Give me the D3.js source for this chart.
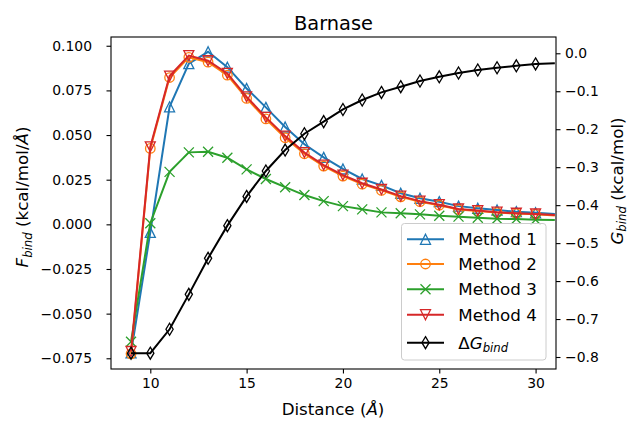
<!DOCTYPE html>
<html>
<head>
<meta charset="utf-8">
<script src="https://cdn.jsdelivr.net/npm/d3@7"></script>
<style>
  body { margin: 0; background: #fff; }
  svg { font-family: "DejaVu Sans", sans-serif; }
</style>
</head>
<body>
<svg id="drawing_region"></svg>
<script>
// distance (Å); markers only shown up to 30, the last point just carries the line to the frame
const distance = [9, 10, 11, 12, 13, 14, 15, 16, 17, 18, 19, 20, 21, 22, 23, 24, 25, 26, 27, 28, 29, 30, 31];
const method1 = [-0.0720, -0.0045, 0.0658, 0.0900, 0.0966, 0.0880, 0.0761, 0.0655, 0.0545, 0.0448, 0.0375, 0.0310, 0.0254, 0.0218, 0.0174, 0.0146, 0.0127, 0.0102, 0.0090, 0.0080, 0.0071, 0.0065, 0.0058];
const method2 = [-0.0725, 0.0425, 0.0822, 0.0935, 0.0908, 0.0835, 0.0705, 0.0590, 0.0485, 0.0395, 0.0326, 0.0270, 0.0225, 0.0190, 0.0154, 0.0127, 0.0107, 0.0083, 0.0074, 0.0066, 0.0060, 0.0056, 0.0050];
const method3 = [-0.0657, 0.0006, 0.0294, 0.0403, 0.0406, 0.0373, 0.0308, 0.0254, 0.0208, 0.0164, 0.0130, 0.0102, 0.0084, 0.0067, 0.0062, 0.0056, 0.0048, 0.0043, 0.0037, 0.0031, 0.0030, 0.0026, 0.0024];
const method4 = [-0.0712, 0.0434, 0.0830, 0.0945, 0.0916, 0.0845, 0.0714, 0.0599, 0.0494, 0.0402, 0.0332, 0.0276, 0.0230, 0.0195, 0.0158, 0.0130, 0.0110, 0.0086, 0.0077, 0.0068, 0.0062, 0.0058, 0.0052];
const deltaG = [-0.790, -0.790, -0.727, -0.635, -0.540, -0.454, -0.377, -0.310, -0.255, -0.212, -0.180, -0.148, -0.123, -0.103, -0.088, -0.073, -0.062, -0.052, -0.044, -0.038, -0.033, -0.028, -0.026];

const xTicks = [10, 15, 20, 25, 30];
const fTicks = [-0.075, -0.050, -0.025, 0.000, 0.025, 0.050, 0.075, 0.100];
const gTicks = [-0.8, -0.7, -0.6, -0.5, -0.4, -0.3, -0.2, -0.1, 0.0];

const markerMax = 30;

var config = {
    width: 629,
    height: 421,
    margin: {top: 37, right: 73, bottom: 52, left: 111}
};

const series = [
    {name: 'Method 1', values: method1, color: '#1f77b4', marker: 'up', axis: 'f'},
    {name: 'Method 2', values: method2, color: '#ff7f0e', marker: 'circle', axis: 'f'},
    {name: 'Method 3', values: method3, color: '#2ca02c', marker: 'x', axis: 'f'},
    {name: 'Method 4', values: method4, color: '#d62728', marker: 'down', axis: 'f'},
    {name: 'dG', values: deltaG, color: '#000000', marker: 'diamond', axis: 'g'}
];

const svg = d3.select('#drawing_region')
    .attr('width', config.width)
    .attr('height', config.height);

const x0 = config.margin.left, x1 = config.width - config.margin.right;
const y0 = config.margin.top, y1 = config.height - config.margin.bottom;

const xScale = d3.scaleLinear().domain([7.96, 31.06]).range([x0, x1]);
const fScale = d3.scaleLinear().domain([-0.0810, 0.1049]).range([y1, y0]);
const gScale = d3.scaleLinear().domain([-0.8316, 0.0429]).range([y1, y0]);

svg.append('defs').append('clipPath').attr('id', 'clip')
    .append('rect')
    .attr('x', x0).attr('y', y0)
    .attr('width', x1 - x0).attr('height', y1 - y0);

function markerPath(type, s) {
    const h = s / 2;
    if (type === 'up') return `M0,${-h}L${h},${h}L${-h},${h}Z`;
    if (type === 'down') return `M0,${h}L${h},${-h}L${-h},${-h}Z`;
    if (type === 'x') return `M${-h},${-h}L${h},${h}M${-h},${h}L${h},${-h}`;
    if (type === 'diamond') return `M0,${-6}L3.6,0L0,6L-3.6,0Z`;
    return d3.arc()({innerRadius: 0, outerRadius: h * 0.95, startAngle: 0, endAngle: 2 * Math.PI});
}

const plot = svg.append('g').attr('clip-path', 'url(#clip)');

series.forEach(s => {
    const yScale = s.axis === 'f' ? fScale : gScale;
    const pts = distance.map((d, i) => ({x: d, y: s.values[i]}));
    const line = d3.line().x(d => xScale(d.x)).y(d => yScale(d.y));
    const g = plot.append('g');
    g.append('path')
        .datum(pts)
        .attr('d', line)
        .attr('fill', 'none')
        .attr('stroke', s.color)
        .attr('stroke-width', 2);
    g.selectAll('.mk')
        .data(pts.filter(d => d.x <= markerMax))
        .enter()
        .append('path')
        .attr('class', 'mk')
        .attr('transform', d => `translate(${xScale(d.x)},${yScale(d.y)})`)
        .attr('d', markerPath(s.marker, 10))
        .attr('fill', 'none')
        .attr('stroke', s.color)
        .attr('stroke-width', 1.3);
});

// frame
svg.append('rect')
    .attr('x', x0).attr('y', y0)
    .attr('width', x1 - x0).attr('height', y1 - y0)
    .attr('fill', 'none')
    .attr('stroke', '#000')
    .attr('stroke-width', 1.1);

function styleAxis(g) {
    g.select('.domain').remove();
    g.selectAll('.tick line').attr('stroke', '#000').attr('stroke-width', 1.1);
    g.selectAll('.tick text')
        .attr('fill', '#000')
        .style('font-family', '"DejaVu Sans", sans-serif')
        .style('font-size', '13.9px');
}

svg.append('g')
    .attr('transform', `translate(0,${y1})`)
    .call(d3.axisBottom(xScale).tickValues(xTicks).tickSize(4.5).tickPadding(4.8).tickFormat(d3.format('d')))
    .call(styleAxis);

svg.append('g')
    .attr('transform', `translate(${x0},0)`)
    .call(d3.axisLeft(fScale).tickValues(fTicks).tickSize(4.5).tickPadding(14.5).tickFormat(d3.format('.3f')))
    .call(styleAxis);

svg.append('g')
    .attr('transform', `translate(${x1},0)`)
    .call(d3.axisRight(gScale).tickValues(gTicks).tickSize(4.5).tickPadding(4.5).tickFormat(d3.format('.1f')))
    .call(styleAxis);

// title and axis labels
svg.append('text')
    .attr('x', (x0 + x1) / 2).attr('y', 30)
    .attr('text-anchor', 'middle')
    .style('font-size', '19.4px')
    .attr('fill', '#000')
    .text('Barnase');

const xl = svg.append('text')
    .attr('x', 333).attr('y', 415)
    .attr('text-anchor', 'middle')
    .style('font-size', '16.7px')
    .attr('fill', '#000');
xl.append('tspan').text('Distance (');
xl.append('tspan').attr('font-style', 'italic').text('Å');
xl.append('tspan').text(')');

const yl = svg.append('text')
    .attr('transform', 'translate(28,197) rotate(-90)')
    .attr('text-anchor', 'middle')
    .style('font-size', '16.7px')
    .attr('fill', '#000');
yl.append('tspan').attr('font-style', 'italic').text('F');
yl.append('tspan').attr('font-style', 'italic').attr('font-size', '11.7px').attr('dy', 3.5).text('bind');
yl.append('tspan').attr('dy', -3.5).text(' (kcal/mol/');
yl.append('tspan').attr('font-style', 'italic').text('Å');
yl.append('tspan').text(')');

const gl = svg.append('text')
    .attr('transform', 'translate(622.5,181) rotate(-90)')
    .attr('text-anchor', 'middle')
    .style('font-size', '16.7px')
    .attr('fill', '#000');
gl.append('tspan').attr('font-style', 'italic').text('G');
gl.append('tspan').attr('font-style', 'italic').attr('font-size', '11.7px').attr('dy', 3).text('bind');
gl.append('tspan').attr('dy', -3).text(' (kcal/mol)');

// legend
const legend = svg.append('g');
legend.append('rect')
    .attr('x', 401.5).attr('y', 223.5)
    .attr('width', 144.5).attr('height', 136.5)
    .attr('rx', 3).attr('ry', 3)
    .attr('fill', '#fff').attr('fill-opacity', 0.8)
    .attr('stroke', '#cccccc').attr('stroke-width', 1);

const legendY = [239.3, 264.0, 289.3, 314.7, 342.7];
series.forEach((s, i) => {
    const ly = legendY[i];
    const item = legend.append('g');
    item.append('line')
        .attr('x1', 407).attr('x2', 444)
        .attr('y1', ly).attr('y2', ly)
        .attr('stroke', s.color).attr('stroke-width', 2);
    item.append('path')
        .attr('transform', `translate(425.5,${ly})`)
        .attr('d', markerPath(s.marker, 10))
        .attr('fill', 'none')
        .attr('stroke', s.color)
        .attr('stroke-width', 1.3);
    const t = item.append('text')
        .attr('x', 458.3).attr('y', ly + 6)
        .style('font-size', '16.7px')
        .attr('fill', '#000');
    if (s.name === 'dG') {
        t.append('tspan').text('Δ');
        t.append('tspan').attr('font-style', 'italic').text('G');
        t.append('tspan').attr('font-style', 'italic').attr('font-size', '11.7px').attr('dy', 3.5).text('bind');
    } else {
        t.text(s.name);
    }
});
</script>
</body>
</html>
